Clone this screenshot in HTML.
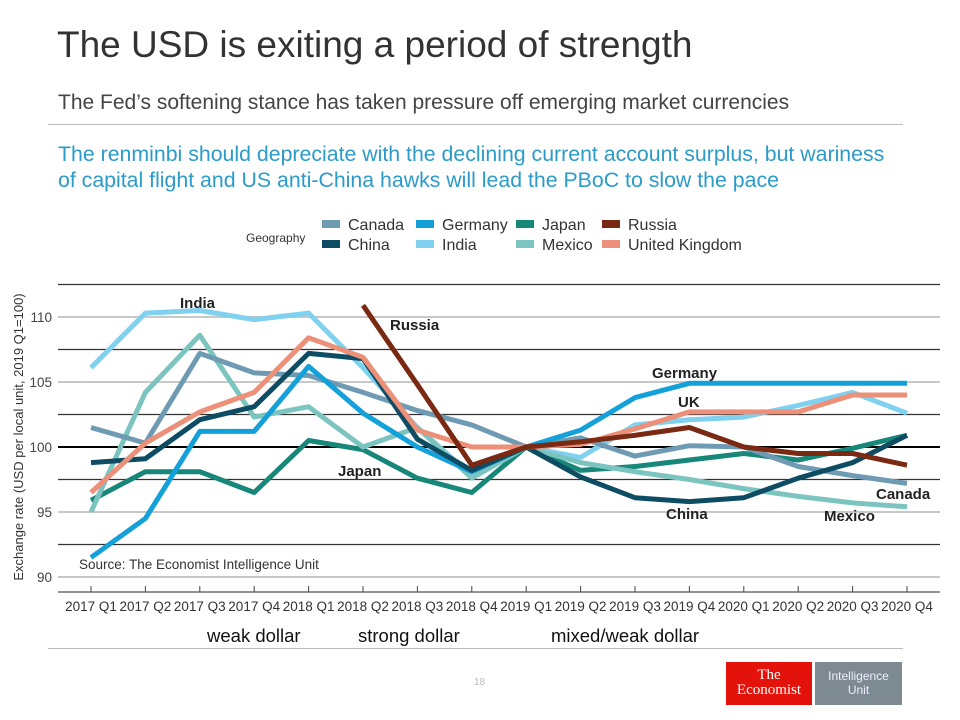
<!DOCTYPE html>
<html><head><meta charset="utf-8"><style>
body{margin:0;width:960px;height:720px;background:#fff;font-family:"Liberation Sans",sans-serif;position:relative;overflow:hidden}
.a{position:absolute;white-space:nowrap}
</style></head><body>
<div class="a" style="left:57px;top:24px;font-size:37px;color:#333">The USD is exiting a period of strength</div>
<div class="a" style="left:58px;top:91px;font-size:21px;color:#444">The Fed’s softening stance has taken pressure off emerging market currencies</div>
<div class="a" style="left:48px;top:124px;width:855px;height:1px;background:#bbb"></div>
<div class="a" style="left:58px;top:141px;font-size:21.3px;line-height:26px;color:#2b9bc9">The renminbi should depreciate with the declining current account surplus, but wariness<br>of capital flight and US anti-China hawks will lead the PBoC to slow the pace</div>
<svg class="a" style="left:0;top:0" width="960" height="720" id="chart"></svg>
<div class="a" style="left:207px;top:625px;font-size:18.5px;color:#111">weak dollar</div>
<div class="a" style="left:358px;top:625px;font-size:18.5px;color:#111">strong dollar</div>
<div class="a" style="left:551px;top:625px;font-size:18.5px;color:#111">mixed/weak dollar</div>
<div class="a" style="left:48px;top:648px;width:855px;height:1px;background:#bbb"></div>
<div class="a" style="left:474px;top:677px;font-size:10px;color:#bbb">18</div>
<div class="a" style="left:726px;top:662px;width:86px;height:43px;background:#e3120b;color:#fff;font-family:'Liberation Serif',serif;font-size:15px;line-height:15px;text-align:center;padding-top:6px;box-sizing:border-box">The<br>Economist</div>
<div class="a" style="left:815px;top:662px;width:87px;height:43px;background:#7d8a92;color:#eef;font-size:12px;line-height:14px;text-align:center;padding-top:7px;box-sizing:border-box">Intelligence<br>Unit</div>
<script>
const categories=["2017 Q1","2017 Q2","2017 Q3","2017 Q4","2018 Q1","2018 Q2","2018 Q3","2018 Q4","2019 Q1","2019 Q2","2019 Q3","2019 Q4","2020 Q1","2020 Q2","2020 Q3","2020 Q4"];
const yTicks=[90,95,100,105,110];
const canada=[101.5,100.3,107.2,105.7,105.5,104.2,102.8,101.7,100,100.7,99.3,100.1,100,98.5,97.8,97.2];
const china=[98.8,99.1,102.1,103.1,107.2,106.8,100.6,98.2,100,97.7,96.1,95.8,96.1,97.6,98.8,100.9];
const germany=[91.5,94.5,101.2,101.2,106.2,102.6,100,98.1,100,101.3,103.8,104.9,104.9,104.9,104.9,104.9];
const india=[106.1,110.3,110.5,109.8,110.3,106.1,101.5,97.8,100,99.2,101.7,102.1,102.3,103.2,104.2,102.6];
const japan=[95.9,98.1,98.1,96.5,100.5,99.8,97.6,96.5,100,98.2,98.5,99,99.5,99,99.9,100.9];
const mexico=[95,104.2,108.6,102.3,103.1,100,101.5,97.6,100,98.8,98.1,97.5,96.8,96.2,95.7,95.4];
const russia=[null,null,null,null,null,110.9,104.8,98.6,100,100.4,100.9,101.5,100,99.5,99.5,98.6];
const uk=[96.5,100.3,102.7,104.2,108.4,106.9,101.3,100,100,100.2,101.4,102.7,102.7,102.7,104,104];
const seriesNames=["Canada","China","Germany","India","Japan","Mexico","Russia","United Kingdom"];
const seriesData=[canada,china,germany,india,japan,mexico,russia,uk];
const colors=["#6e9bb3","#0d4c62","#14a0d8","#80d0f0","#17877a","#7cc4c0","#7a2912","#ec9079"];
const NS="http://www.w3.org/2000/svg",svg=document.getElementById("chart");
const xs=i=>91+i*54.4, ys=v=>447-(v-100)*13;
function mk(t,a,p){const e=document.createElementNS(NS,t);for(const k in a)e.setAttribute(k,a[k]);(p||svg).appendChild(e);return e;}
for(let v=112.5;v>=90;v-=2.5){
 const major=(v%5===0);
 const g=mk("line",{x1:58,x2:940,y1:ys(v),y2:ys(v),stroke:v===100?"#000":(major?"#c8c8c8":"#333"),"stroke-width":v===100?2:(major?2:1.2)});
 
 
}
mk("line",{x1:58,x2:940,y1:592,y2:592,stroke:"#555","stroke-width":1.2});
yTicks.forEach(v=>{const t=mk("text",{x:52,y:ys(v)+5,"text-anchor":"end","font-size":13.5,fill:"#444"});t.textContent=v;
 
 });
categories.forEach((c,i)=>{mk("line",{x1:xs(i),x2:xs(i),y1:586,y2:592,stroke:"#444"});
 const t=mk("text",{x:xs(i),y:611,"text-anchor":"middle","font-size":13.5,fill:"#333"});t.textContent=c;
 
 });
const yt=mk("text",{transform:"translate(23,437) rotate(-90)","text-anchor":"middle","font-size":13,fill:"#333"});yt.textContent="Exchange rate (USD per local unit, 2019 Q1=100)";


const order=[4,3,5,0,2,1,7,6];
order.forEach(k=>{const d=seriesData[k];let p="";d.forEach((v,i)=>{if(v==null)return;p+=(p?"L":"M")+xs(i)+","+ys(v);});
 const l=mk("path",{d:p,fill:"none",stroke:colors[k],"stroke-width":5,"stroke-linejoin":"round"});
 
 });
const labs=[["India",180,308],["Russia",390,330],["Japan",338,476],["Germany",652,378],["UK",678,407],["China",666,519],["Canada",876,499],["Mexico",824,521]];
labs.forEach(a=>{const t=mk("text",{x:a[1],y:a[2],"font-size":15,"font-weight":"bold",fill:"#222"});t.textContent=a[0];
 
 });
const src=mk("text",{x:79,y:569,"font-size":13.5,fill:"#333"});src.textContent="Source: The Economist Intelligence Unit";


const gt=mk("text",{x:246,y:242,"font-size":12,fill:"#333"});gt.textContent="Geography";


const lx=[322,416,516,602];
seriesNames.forEach((n,k)=>{const c=Math.floor(k/2),r=k%2;const x=lx[c],y=225+r*20;
 const g=mk("g",{});
 
 
 mk("rect",{x:x,y:y-5,width:18,height:8,fill:colors[k]},g);
 const t=mk("text",{x:x+26,y:y+5,"font-size":16,fill:"#333"},g);t.textContent=n;});
</script>
</body></html>
